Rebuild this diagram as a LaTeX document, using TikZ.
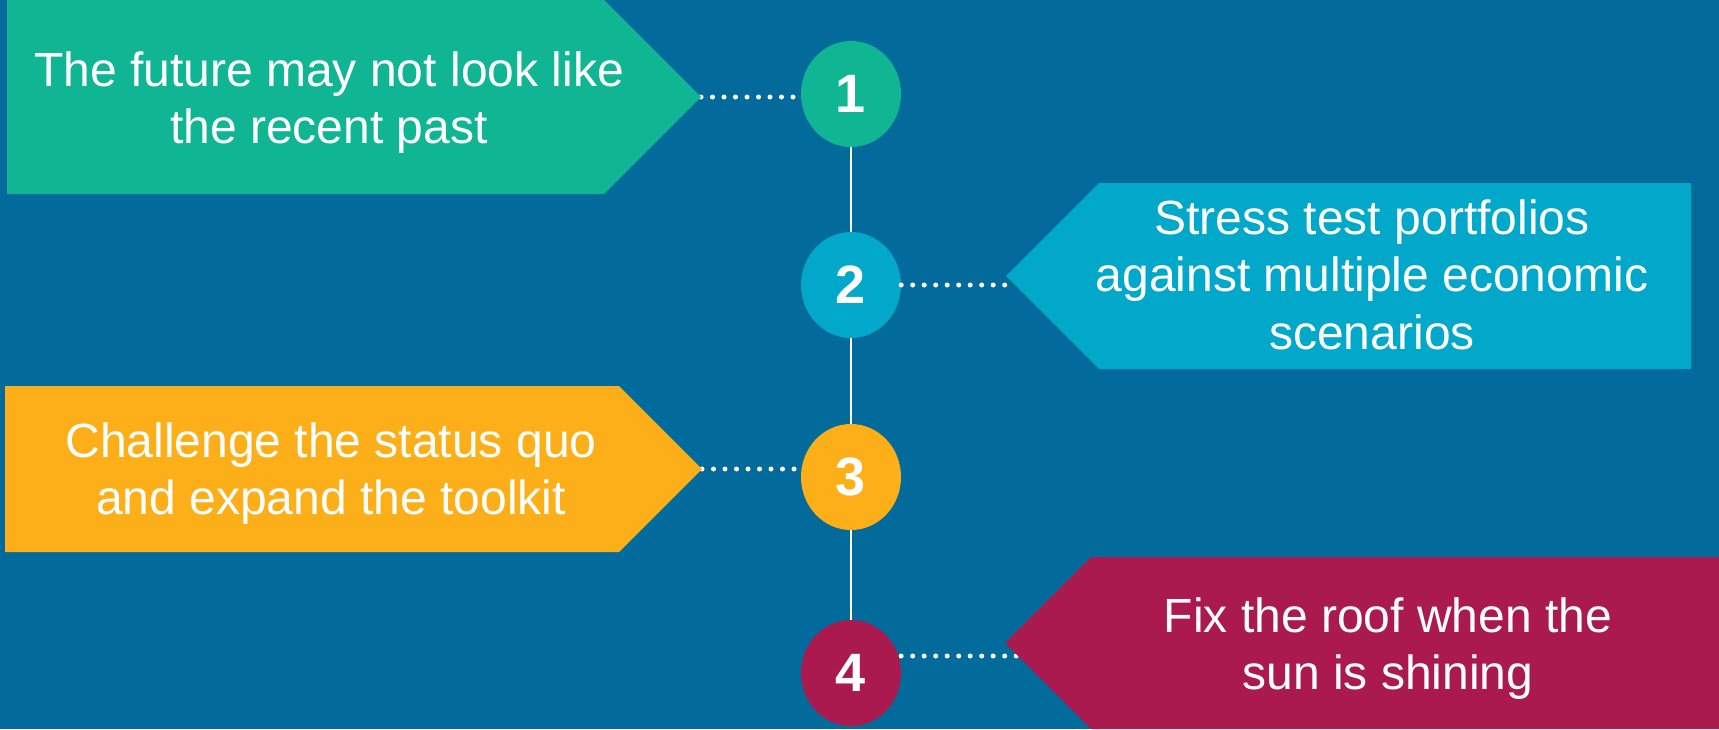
\documentclass[tikz,border=0pt]{standalone}
\usepackage{fontspec}
\setmainfont{Liberation Sans}
\usetikzlibrary{shapes.geometric,positioning,calc,backgrounds}
\definecolor{bgblue}{HTML}{036A9C}
\definecolor{mint}{HTML}{10B594}
\definecolor{aqua}{HTML}{01A8C9}
\definecolor{amber}{HTML}{FCAF18}
\definecolor{berry}{HTML}{AA1A4E}
\tikzset{
  msg/.style={text=white,align=center,inner sep=0pt,
    font=\fontsize{48}{57.5}\selectfont},
  num/.style={ellipse,inner sep=0pt,minimum width=100pt,minimum height=106pt,
    text=white,font=\fontsize{54}{54}\selectfont\bfseries},
  spine/.style={draw=white,line width=2pt},
  dotline/.style={draw=white,line width=5pt,line cap=round,
    dash pattern=on 0pt off 11.5pt},
}
\begin{document}
\begin{tikzpicture}[x=1pt,y=-1pt]
  \useasboundingbox (0,0) rectangle (1719,729);
  % tips of the arrow boxes, and free ends of the dotted leaders
  \coordinate (t1) at (701,97);
  \coordinate (t2) at (1006,276);
  \coordinate (t3) at (702,469);
  \coordinate (t4) at (1005,643);
  \coordinate (d2) at (1016,285);
  \coordinate (d4) at (1018,656);
  % numbered markers on the spine
  \node[num,fill=mint]  (n1) at (851,94)  {1};
  \node[num,fill=aqua]  (n2) at (851,285) {2};
  \node[num,fill=amber] (n3) at (851,477) {3};
  \node[num,fill=berry] (n4) at (851,673) {4};
  \begin{scope}[on background layer]
    \fill[bgblue] (0,0) rectangle (1719,729);
    \draw[spine] (n1.south) -- (n4.north);
  \end{scope}
  \draw[dotline] (t1) -- (t1 -| n1.west);
  \draw[dotline] (n2.east) -- (d2);
  \draw[dotline] (t3) -- (t3 -| n3.west);
  \draw[dotline] (d4 -| n4.east) -- (d4);
  % arrow boxes
  \fill[mint]  (7,0) -- (604,0) -- (t1) -- (604,194) -- (7,194) -- cycle;
  \fill[aqua]  (t2) -- (1099,183) -- (1691,183) -- (1691,369) -- (1099,369) -- cycle;
  \fill[amber] (5,386) -- (619,386) -- (t3) -- (619,552) -- (5,552) -- cycle;
  \fill[berry] (t4) -- (1091,557) -- (1719,557) -- (1719,729) -- (1091,729) -- cycle;
  \node[msg] (m1) at (329,102.5) {The future may not look like\\the recent past};
  \node[msg] (m2) at (1372,274.5) {Stress test portfolios\\against multiple economic\\scenarios};
  \node[msg] (m3) at (331,473.5) {Challenge the status quo\\and expand the toolkit};
  \node[msg] (m4) at (1388,648.5) {Fix the roof when the\\sun is shining};
\end{tikzpicture}
\end{document}
